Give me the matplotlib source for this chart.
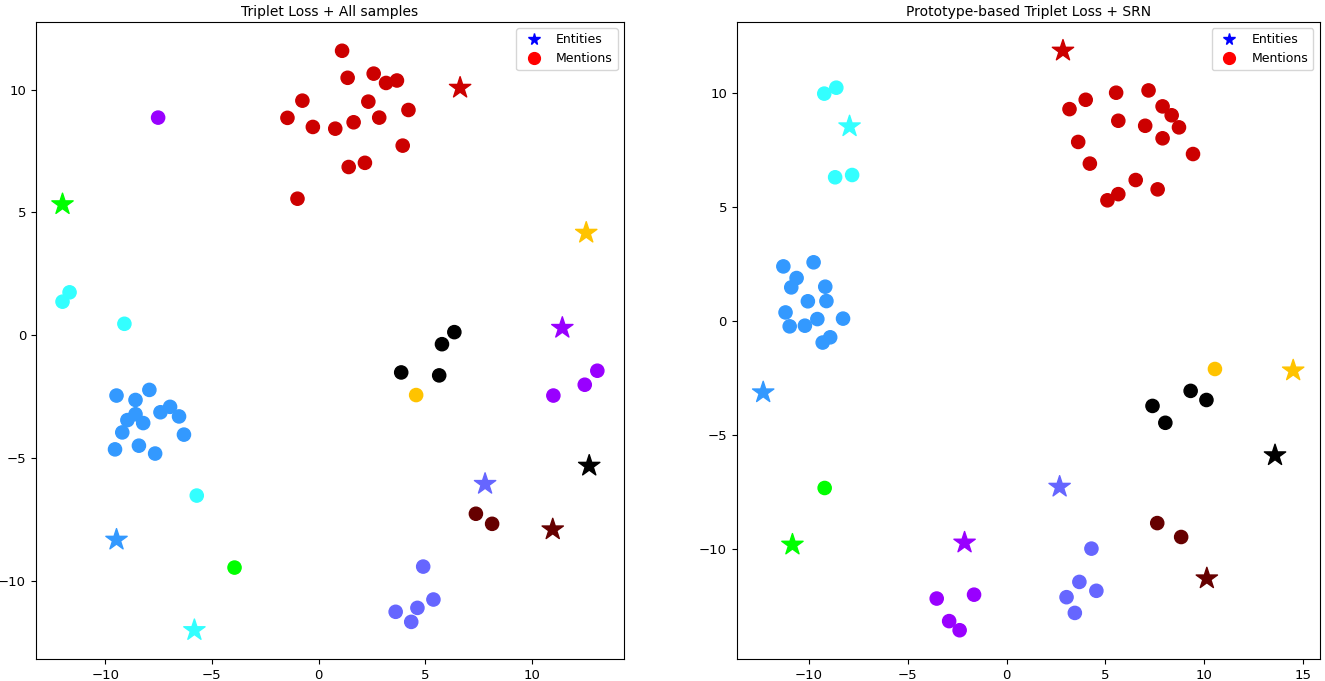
import matplotlib.pyplot as plt
from matplotlib.lines import Line2D

# cluster index -> colour: 0 red, 1 dodgerblue, 2 cyan, 3 lime, 4 purple,
# 5 gold, 6 black, 7 maroon, 8 slateblue
palette = ['#cc0000', '#3399ff', '#33ffff', '#00ff00', '#9900ff',
           '#ffc300', '#000000', '#660000', '#6666ff']

titles = ['Triplet Loss + All samples', 'Prototype-based Triplet Loss + SRN']

# ---- left panel: Triplet Loss + All samples ----
left_mention_x = [1.10, 1.36, 2.58, 3.16, 3.67, -0.76, 2.33, 4.21, -1.46, -0.27,
                  0.78, 1.64, 2.84, 3.94, 1.41, 2.17, -0.99,
                  -7.52, 13.06, 12.47, 11.00,
                  -11.67, -12.00, -9.10, -5.71,
                  6.36, 5.78, 3.87, 5.65,
                  4.57,
                  -9.47, -7.93, -8.58, -8.58, -6.96, -7.41, -6.54, -8.96, -8.22,
                  -9.20, -6.31, -9.54, -8.42, -7.66,
                  -3.94,
                  7.37, 8.13,
                  4.90, 5.38, 4.63, 3.61, 4.34]
left_mention_y = [11.58, 10.48, 10.65, 10.27, 10.37, 9.55, 9.51, 9.17, 8.85, 8.48,
                  8.41, 8.67, 8.86, 7.72, 6.85, 7.02, 5.56,
                  8.86, -1.44, -2.01, -2.45,
                  1.75, 1.37, 0.47, -6.52,
                  0.13, -0.36, -1.51, -1.63,
                  -2.43,
                  -2.45, -2.22, -2.63, -3.21, -2.91, -3.13, -3.30, -3.45, -3.57,
                  -3.95, -4.04, -4.64, -4.49, -4.81,
                  -9.45,
                  -7.26, -7.67,
                  -9.41, -10.75, -11.09, -11.25, -11.66]
left_mention_cluster = [0] * 17 + [4] * 4 + [2] * 4 + [6] * 4 + [5] + [1] * 14 + [3] + [7] * 2 + [8] * 5

left_entity_x = [6.63, -12.00, 12.54, 11.42, -9.47, -5.82, 7.80, 12.68, 10.97]
left_entity_y = [10.07, 5.33, 4.17, 0.30, -8.32, -12.00, -6.05, -5.31, -7.90]
left_entity_cluster = [0, 3, 5, 4, 1, 2, 8, 6, 7]

# ---- right panel: Prototype-based Triplet Loss + SRN ----
right_mention_x = [3.18, 4.00, 5.54, 7.18, 7.89, 8.35, 8.72, 5.65, 7.01, 7.89,
                   9.43, 3.62, 4.21, 6.53, 7.64, 5.65, 5.10,
                   -9.23, -8.62, -8.68, -7.82,
                   -11.30, -9.77, -10.63, -10.90, -9.18, -10.06, -9.12, -11.19,
                   -9.58, -8.28, -10.98, -10.21, -9.31, -8.93,
                   10.54,
                   9.31, 10.11, 7.38, 8.03,
                   -9.21,
                   7.62, 8.83,
                   4.29, 3.68, 4.54, 3.03, 3.45,
                   -3.54, -1.65, -2.91, -2.38]
right_mention_y = [9.31, 9.72, 10.03, 10.13, 9.43, 9.04, 8.51, 8.80, 8.58, 8.03,
                   7.34, 7.87, 6.92, 6.20, 5.79, 5.58, 5.31,
                   9.99, 10.25, 6.32, 6.42,
                   2.41, 2.59, 1.90, 1.49, 1.52, 0.88, 0.89, 0.39,
                   0.10, 0.12, -0.22, -0.19, -0.93, -0.70,
                   -2.09,
                   -3.05, -3.45, -3.71, -4.45,
                   -7.31,
                   -8.85, -9.46,
                   -9.97, -11.43, -11.82, -12.10, -12.79,
                   -12.16, -11.99, -13.15, -13.55]
right_mention_cluster = [0] * 17 + [2] * 4 + [1] * 14 + [5] + [6] * 4 + [3] + [7] * 2 + [8] * 5 + [4] * 4

right_entity_x = [2.85, -7.95, -12.32, 14.50, 13.58, 2.68, -10.84, -2.13, 10.13]
right_entity_y = [11.87, 8.55, -3.12, -2.16, -5.88, -7.26, -9.80, -9.71, -11.28]
right_entity_cluster = [0, 2, 1, 5, 6, 8, 3, 4, 7]


def draw(ax, title, mx, my, mc, ex, ey, ec):
    ax.scatter(mx, my, c=[palette[i] for i in mc], marker='o', s=90)
    ax.scatter(ex, ey, c=[palette[i] for i in ec], marker='*', s=260)
    handles = [
        Line2D([], [], marker='*', color='blue', linestyle='None', markersize=8.5, label='Entities'),
        Line2D([], [], marker='o', color='red', linestyle='None', markersize=8.5, label='Mentions'),
    ]
    ax.legend(handles=handles, loc='upper right', fontsize=9)
    ax.set_title(title, fontsize=10, pad=4)
    ax.tick_params(labelsize=9.5)


fig = plt.figure(figsize=(13.25, 6.81), dpi=100)
ax1 = fig.add_axes([0.027, 0.032, 0.444, 0.936])
ax2 = fig.add_axes([0.556, 0.032, 0.440, 0.936])

draw(ax1, titles[0], left_mention_x, left_mention_y, left_mention_cluster,
     left_entity_x, left_entity_y, left_entity_cluster)
draw(ax2, titles[1], right_mention_x, right_mention_y, right_mention_cluster,
     right_entity_x, right_entity_y, right_entity_cluster)

fig.savefig('out.png', dpi=100)
